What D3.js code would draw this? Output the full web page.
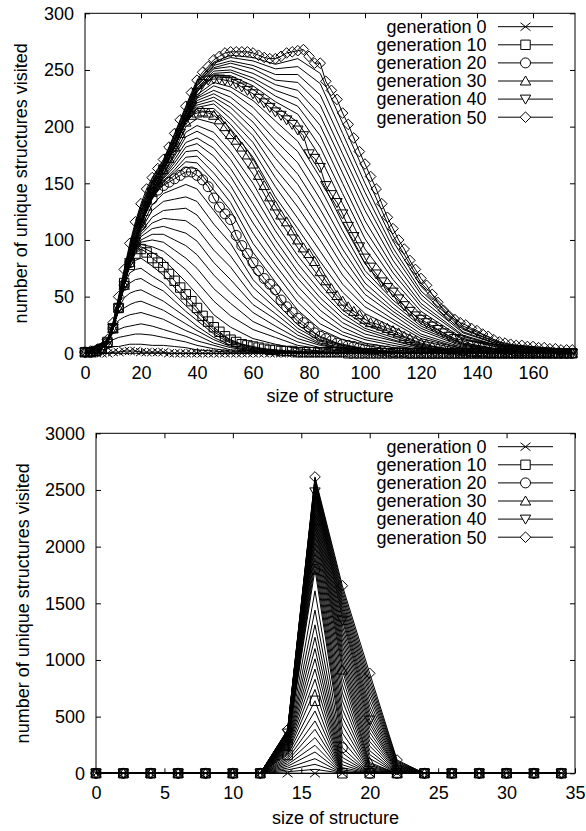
<!DOCTYPE html>
<html>
<head>
<meta charset="utf-8">
<script src="https://cdn.jsdelivr.net/npm/d3@7"></script>
<style>
  body { margin: 0; background: #fff; }
  text { font-family: "Liberation Sans", Arial, Helvetica, sans-serif; }
</style>
</head>
<body>
<div id="chart-area"></div>
<script>
//============================DATA============================
// generations that get a marker + legend entry
var markedGenerations = [0, 10, 20, 30, 40, 50];
var legendLabels = ["generation 0", "generation 10", "generation 20", "generation 30", "generation 40", "generation 50"];
var markerTypes = ["cross", "square", "circle", "triUp", "triDown", "diamond"];

// ---- top panel: marked generations, every size step of 2 ----
var topSizes = [0,2,4,6,8,10,12,14,16,18,20,22,24,26,28,30,32,34,36,38,40,42,44,46,48,50,52,54,56,58,
  60,62,64,66,68,70,72,74,76,78,80,82,84,86,88,90,92,94,96,98,100,102,104,106,108,110,112,114,116,118,
  120,122,124,126,128,130,132,134,136,138,140,142,144,146,148,150,152,154,156,158,160,162,164,166,168,170,172,174];

var topGen0 = [0,0,0,0,0,1,1,2,2,2, 1,1,1,1,1,0,0,0,0,0,
  0,0,0,0,0,0,0,0,0,0, 0,0,0,0,0,0,0,0,0,0, 0,0,0,0,0,0,0,0,0,0, 0,0,0,0,0,0,0,0,0,0,
  0,0,0,0,0,0,0,0,0,0, 0,0,0,0,0,0,0,0,0,0, 0,0,0,0,0,0,0,0];
var topGen10 = [1,1,2,4,10,22,40,62,78,88, 92,89,84,80,76,70,64,58,52,46,
  40,33,28,23,19,15,12,10,8,7, 6,5,4,3,3,2,2,2,1,1, 1,1,1,1,1,1,1,0,0,0,
  0,0,0,0,0,0,0,0,0,0, 0,0,0,0,0,0,0,0,0,0, 0,0,0,0,0,0,0,0,0,0, 0,0,0,0,0,0,0,0];
var topGen20 = [1,1,2,4,9,22,40,60,80,98, 113,126,136,144,148,151,154,157,160,160,
  157,153,147,137,129,123,118,104,95,88, 80,73,66,61,56,47,41,36,31,27, 23,18,15,13,11,9,8,7,6,5,
  4,3,3,2,2,1,1,1,0,0, 0,0,0,0,0,0,0,0,0,0, 0,0,0,0,0,0,0,0,0,0, 0,0,0,0,0,0,0,0];
var topGen30 = [1,1,2,4,9,22,40,60,80,98, 115,130,142,152,162,172,182,194,204,210,
  212,213,212,210,206,200,193,188,182,175, 167,157,148,138,130,122,116,108,100,93, 88,81,72,64,57,51,46,41,37,34,
  30,27,26,24,22,20,18,15,13,11, 9,8,6,5,4,3,3,2,2,1, 1,1,0,0,0,0,0,0,0,0, 0,0,0,0,0,0,0,0];
var topGen40 = [1,1,2,4,9,22,40,60,80,98, 115,130,142,152,162,172,182,194,206,218,
  230,238,241,242,242,241,240,238,235,232, 229,225,221,217,213,210,206,202,197,192, 176,172,164,148,140,133,123,112,103,94,
  84,76,70,63,58,54,48,42,37,33, 30,27,24,21,18,15,13,12,10,8, 7,6,5,4,4,3,3,2,2,2, 1,1,1,1,0,0,0,0];
var topGen50 = [1,2,3,5,12,27,50,74,97,116, 132,145,155,163,171,182,194,206,218,230,
  241,248,253,259,262,265,266,266,266,266, 265,263,261,260,260,262,265,266,267,268, 262,256,256,240,232,224,212,202,190,178,
  167,156,145,132,120,110,100,92,82,74, 66,60,52,45,38,33,30,27,25,22, 20,17,15,12,10,9,8,7,7,6, 6,5,5,4,4,3,3,3];

// ---- top panel: the other generations (thin lines), read at fewer sizes ----
var topThinSizes = [0,8,10,12,14,16,18,20,24,28,32,36,40,46,52,60,68,76,84,92,100,110,120,135,150,174];
var topThinGenerations = [1,2,3,4,5,6,7,8,9, 11,12,13,14,15,16,17,18,19, 21,22,23,24,25,26,27,28,29,
  31,32,33,34,35,36,37,38,39, 41,42,43,44,45,46,47,48,49];
var topThinCounts = [
  [0,4,6,6,7,8,8,8,7,7,6,5,3,2,1,1,0,0,0,0,0,0,0,0,0,0],
  [0,8,12,14,15,16,17,17,16,14,12,10,7,4,2,1,1,0,0,0,0,0,0,0,0,0],
  [0,9,18,21,23,24,25,26,24,21,18,15,11,7,3,2,1,0,0,0,0,0,0,0,0,0],
  [1,9,22,29,32,34,35,36,33,30,25,20,16,9,5,2,1,0,0,0,0,0,0,0,0,0],
  [1,9,22,37,40,43,45,46,42,38,32,26,20,12,6,3,2,1,0,0,0,0,0,0,0,0],
  [1,9,22,40,49,53,55,56,51,46,39,32,24,14,7,4,2,1,0,0,0,0,0,0,0,0],
  [1,9,22,40,58,62,65,66,60,55,46,37,29,17,9,4,2,1,1,0,0,0,0,0,0,0],
  [1,9,22,40,60,71,74,75,68,62,52,42,33,19,10,5,2,1,1,0,0,0,0,0,0,0],
  [1,9,22,40,60,77,82,84,77,69,58,47,37,21,11,5,3,1,1,0,0,0,0,0,0,0],
  [1,9,22,40,61,79,89,94,89,83,73,63,52,34,23,13,8,4,2,2,0,0,0,0,0,0],
  [1,9,22,40,61,79,90,96,94,90,82,74,63,46,33,21,14,7,4,2,1,0,0,0,0,0],
  [1,9,22,40,61,79,91,98,100,98,91,84,75,57,44,28,19,10,5,3,1,0,0,0,0,0],
  [1,9,22,40,61,79,92,100,105,105,100,95,87,69,54,36,24,13,7,4,2,0,0,0,0,0],
  [1,9,22,40,61,79,93,103,110,112,109,106,99,80,65,43,30,16,8,4,2,1,0,0,0,0],
  [1,9,22,40,61,79,94,105,115,119,118,117,110,91,76,50,35,19,9,5,2,1,0,0,0,0],
  [1,9,22,40,61,79,95,107,120,126,127,128,122,103,86,58,40,22,11,6,3,1,0,0,0,0],
  [1,9,22,40,61,79,96,109,126,134,136,138,134,114,97,65,45,25,12,7,3,1,0,0,0,0],
  [1,9,22,40,61,79,97,111,131,141,145,149,145,126,107,73,51,28,14,7,4,1,0,0,0,0],
  [1,9,22,40,60,80,98,113,137,149,157,164,163,144,126,89,63,38,21,12,7,3,1,0,0,0],
  [1,9,22,40,60,80,98,113,137,151,160,169,168,152,133,97,71,45,26,16,9,5,2,0,0,0],
  [1,9,22,40,60,80,98,114,138,152,162,173,174,159,141,106,78,52,32,19,12,7,3,1,0,0],
  [1,9,22,40,60,80,98,114,138,154,165,178,179,166,148,115,86,59,38,23,14,9,4,1,0,0],
  [1,9,22,40,60,80,98,114,139,155,168,182,185,174,156,124,93,66,44,27,17,11,5,1,0,0],
  [1,9,22,40,60,80,98,114,140,156,171,186,190,181,163,132,100,72,49,31,20,12,5,1,0,0],
  [1,9,22,40,60,80,98,114,140,158,174,191,196,188,171,141,108,79,55,35,22,14,6,1,0,0],
  [1,9,22,40,60,80,98,115,141,159,176,195,201,195,178,150,115,86,61,38,25,16,7,2,0,0],
  [1,9,22,40,60,80,98,115,141,161,179,200,207,203,186,158,123,93,66,42,27,18,8,2,0,0],
  [1,9,22,40,60,80,98,115,142,162,182,204,214,213,198,173,138,110,81,54,35,23,11,3,0,0],
  [1,9,22,40,60,80,98,115,142,162,182,204,216,216,202,179,147,119,90,61,41,27,13,4,1,0],
  [1,9,22,40,60,80,98,115,142,162,182,205,217,220,207,186,155,129,100,69,46,30,15,4,1,0],
  [1,9,22,40,60,80,98,115,142,162,182,205,219,223,212,192,163,139,109,77,52,34,17,5,1,0],
  [1,9,22,40,60,80,98,115,142,162,182,205,221,226,217,198,172,149,118,85,57,37,20,6,2,0],
  [1,9,22,40,60,80,98,115,142,162,182,205,223,229,221,204,180,158,127,92,62,40,22,7,2,0],
  [1,9,22,40,60,80,98,115,142,162,182,205,225,232,226,210,188,168,136,100,68,44,24,8,2,0],
  [1,9,22,40,60,80,98,115,142,162,182,206,226,236,231,217,196,178,146,108,73,47,26,8,2,0],
  [1,9,22,40,60,80,98,115,142,162,182,206,228,239,235,223,205,187,155,115,79,51,28,9,3,0],
  [1,9,23,41,61,82,100,117,143,163,183,207,231,244,243,233,218,204,173,132,92,60,34,12,4,0],
  [1,10,23,42,63,83,102,118,145,164,184,208,232,245,245,236,222,211,182,141,101,65,37,13,4,1],
  [1,10,24,43,64,85,103,120,146,165,186,210,233,247,248,240,227,218,192,150,109,71,41,15,5,1],
  [1,10,24,44,66,87,105,122,147,166,187,211,234,249,250,243,232,225,201,159,117,76,44,16,5,1],
  [1,11,25,45,67,89,107,124,149,167,188,212,236,251,253,247,237,232,210,168,126,82,48,18,6,2],
  [1,11,25,46,68,90,109,125,150,167,189,213,237,252,256,251,241,239,219,176,134,88,52,19,6,2],
  [1,11,26,47,70,92,111,127,151,168,190,214,238,254,258,254,246,246,228,185,142,93,55,21,7,2],
  [1,11,26,48,71,94,112,129,152,169,192,216,239,256,261,258,251,253,238,194,150,99,59,22,7,2],
  [1,12,27,49,73,95,114,130,154,170,193,217,240,257,263,261,255,260,247,203,159,104,62,24,8,3]
];

// ---- bottom panel: sizes and counts per generation (index = generation 0..50) ----
var bottomSizes = [0,2,4,6,8,10,12,14,16,18,20,22,24,26,28,30,32,34];
var count14 = [0,14,30,46,62,78,94,110,126,143, 161,172,182,193,203,212,221,230,238,245,
  252,258,264,270,276,282,288,294,300,305, 310,315,319,324,328,333,337,341,346,350,
  355,358,361,364,367,370,373,376,379,382, 385];
var count16 = [0,35,79,129,188,247,315,388,462,550, 640,740,830,920,1010,1100,1200,1310,1440,1610,
  1800,1850,1900,1950,2000,2045,2090,2130,2170,2200, 2230,2260,2290,2320,2350,2380,2405,2430,2450,2468,
  2483,2498,2512,2526,2540,2554,2567,2580,2592,2604, 2615];
var count18 = [0,0,0,0,0,0,0,0,0,0, 0,0,5,15,30,50,75,105,140,180,
  226,290,355,425,495,565,640,710,780,848, 911,955,999,1043,1087,1131,1176,1220,1264,1308,
  1352,1382,1413,1443,1473,1503,1534,1564,1594,1625, 1655];
var count20 = [0,0,0,0,0,0,0,0,0,0, 0,0,0,0,0,0,0,0,0,0,
  0,0,5,12,20,30,42,55,68,82, 95,130,165,200,240,280,320,360,400,435,
  470,510,550,590,635,680,720,760,800,840, 882];
var count22 = [0,0,0,0,0,0,0,0,0,0, 0,0,0,0,0,0,0,0,0,0,
  0,0,0,0,0,0,0,0,0,0, 0,0,0,2,5,8,12,17,22,26,
  30,38,46,54,62,70,78,88,98,108, 117];

//============================SETUP============================
var FONT = "'Liberation Sans', Arial, Helvetica, sans-serif";

var svg = d3.select("#chart-area")
    .append("svg")
    .attr("width", 586)
    .attr("height", 831)
    .style("display", "block");

// open point shapes, gnuplot style
function markerPath(type) {
    if (type === "cross")   return "M-5,-4L5,4M-5,4L5,-4";
    if (type === "square")  return "M-4.7,-4.7H4.7V4.7H-4.7Z";
    if (type === "circle")  return "M-5,0A5,5 0 1,0 5,0A5,5 0 1,0 -5,0";
    if (type === "triUp")   return "M0,-5L5.2,4L-5.2,4Z";
    if (type === "triDown") return "M0,5L5.2,-4L-5.2,-4Z";
    return "M0,-5.3L5.3,0L0,5.3L-5.3,0Z"; // diamond
}

function drawPanel(p) {
    var x = d3.scaleLinear().domain(p.xDomain).range([p.left, p.right]);
    var y = d3.scaleLinear().domain(p.yDomain).range([p.bottom, p.top]);
    var g = svg.append("g");
    var fmt = d3.format("d"); // plain integers, no thousands comma

    // axes, ticks pointing inward, mirrored on top/right
    var xb = g.append("g").attr("transform", "translate(0," + p.bottom + ")")
        .call(d3.axisBottom(x).tickValues(p.xTicks).tickFormat(fmt).tickSizeInner(-5).tickSizeOuter(0).tickPadding(13));
    var xt = g.append("g").attr("transform", "translate(0," + p.top + ")")
        .call(d3.axisTop(x).tickValues(p.xTicks).tickSizeInner(-5).tickSizeOuter(0).tickFormat(""));
    var yl = g.append("g").attr("transform", "translate(" + p.left + ",0)")
        .call(d3.axisLeft(y).tickValues(p.yTicks).tickFormat(fmt).tickSizeInner(-5).tickSizeOuter(0).tickPadding(11));
    var yr = g.append("g").attr("transform", "translate(" + p.right + ",0)")
        .call(d3.axisRight(y).tickValues(p.yTicks).tickSizeInner(-5).tickSizeOuter(0).tickFormat(""));

    [xb, xt, yl, yr].forEach(function(a) {
        a.attr("font-size", 18).attr("font-family", FONT);
        a.select(".domain").remove();
        a.selectAll(".tick line").attr("stroke", "#000");
        a.selectAll(".tick text").attr("fill", "#000");
    });

    // data lines
    var line = d3.line()
        .x(function(d) { return x(d[0]); })
        .y(function(d) { return y(d[1]); });

    g.append("g").selectAll("path")
        .data(p.series)
        .enter().append("path")
        .attr("d", function(s) { return line(s.points); })
        .attr("fill", "none")
        .attr("stroke", "#000")
        .attr("stroke-width", 1);

    // markers on the labelled generations
    p.series.filter(function(s) { return s.marker; }).forEach(function(s) {
        g.append("g").selectAll("path")
            .data(s.points)
            .enter().append("path")
            .attr("transform", function(d) { return "translate(" + x(d[0]) + "," + y(d[1]) + ")"; })
            .attr("d", markerPath(s.marker))
            .attr("fill", "none")
            .attr("stroke", "#000")
            .attr("stroke-width", 1);
    });

    // border
    g.append("rect")
        .attr("x", p.left).attr("y", p.top)
        .attr("width", p.right - p.left).attr("height", p.bottom - p.top)
        .attr("fill", "none").attr("stroke", "#000").attr("stroke-width", 1);

    // axis titles
    g.append("text")
        .attr("x", (p.left + p.right) / 2)
        .attr("y", p.xTitleY)
        .attr("text-anchor", "middle")
        .attr("font-size", 18)
        .attr("fill", "#000")
        .text("size of structure");

    g.append("text")
        .attr("transform", "translate(" + p.yTitleX + "," + (p.top + p.bottom) / 2 + ") rotate(-90)")
        .attr("text-anchor", "middle")
        .attr("font-size", 18)
        .attr("fill", "#000")
        .text("number of unique structures visited");

    // legend (top right, inside the plot)
    var leg = g.append("g");
    legendLabels.forEach(function(lab, i) {
        var ly = p.top + 13.4 + i * 18.1;
        leg.append("text")
            .attr("x", 486.5).attr("y", ly)
            .attr("dy", "0.35em")
            .attr("text-anchor", "end")
            .attr("font-size", 18)
            .attr("fill", "#000")
            .text(lab);
        leg.append("line")
            .attr("x1", 498).attr("x2", 553).attr("y1", ly).attr("y2", ly)
            .attr("stroke", "#000").attr("stroke-width", 1);
        leg.append("path")
            .attr("transform", "translate(525.5," + ly + ")")
            .attr("d", markerPath(markerTypes[i]))
            .attr("fill", "#fff")
            .attr("stroke", "#000")
            .attr("stroke-width", 1);
    });
}

//============================TOP PANEL============================
var topMarked = [topGen0, topGen10, topGen20, topGen30, topGen40, topGen50];
var topSeries = [];
topThinGenerations.forEach(function(gen, i) {
    topSeries.push({
        gen: gen,
        points: topThinSizes.map(function(s, j) { return [s, topThinCounts[i][j]]; })
    });
});
markedGenerations.forEach(function(gen, i) {
    topSeries.push({
        gen: gen,
        marker: markerTypes[i],
        points: topSizes.map(function(s, j) { return [s, topMarked[i][j]]; })
    });
});
topSeries.sort(function(a, b) { return a.gen - b.gen; });

drawPanel({
    left: 85, right: 575, top: 13.3, bottom: 353.3,
    xDomain: [0, 175], yDomain: [0, 300],
    xTicks: [0, 20, 40, 60, 80, 100, 120, 140, 160],
    yTicks: [0, 50, 100, 150, 200, 250, 300],
    xTitleY: 402, yTitleX: 27,
    series: topSeries
});

//============================BOTTOM PANEL============================
function bottomCount(size, gen) {
    if (size === 14) return count14[gen];
    if (size === 16) return count16[gen];
    if (size === 18) return count18[gen];
    if (size === 20) return count20[gen];
    if (size === 22) return count22[gen];
    return 0;
}

var bottomSeries = [];
for (var gen = 0; gen <= 50; gen++) {
    var mi = markedGenerations.indexOf(gen);
    bottomSeries.push({
        gen: gen,
        marker: mi >= 0 ? markerTypes[mi] : null,
        points: bottomSizes.map(function(s) { return [s, bottomCount(s, gen)]; })
    });
}

drawPanel({
    left: 96, right: 575, top: 433.3, bottom: 773.3,
    xDomain: [0, 35], yDomain: [0, 3000],
    xTicks: [0, 5, 10, 15, 20, 25, 30, 35],
    yTicks: [0, 500, 1000, 1500, 2000, 2500, 3000],
    xTitleY: 824, yTitleX: 28.5,
    series: bottomSeries
});
</script>
</body>
</html>
